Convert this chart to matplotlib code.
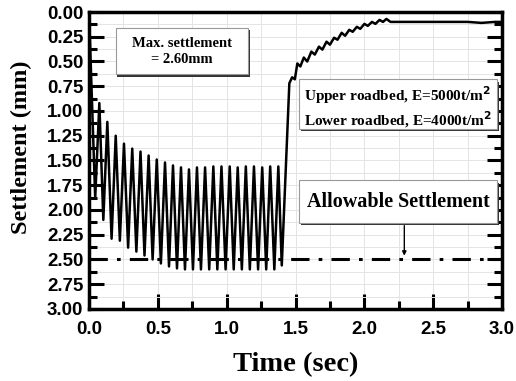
import numpy as np
import matplotlib
matplotlib.use("Agg")
import matplotlib.pyplot as plt
from matplotlib.ticker import MultipleLocator
from matplotlib.patches import Rectangle

# settlement (mm)
start_t = [0.0]
start_s = [0.0]

peak_t = [0.075, 0.133, 0.194, 0.254, 0.314, 0.374, 0.433, 0.492, 0.552, 0.610, 0.668, 0.726,
          0.784, 0.843, 0.903, 0.962, 1.022, 1.080, 1.139, 1.198, 1.258, 1.316, 1.375]
peak_s = [0.92, 1.11, 1.25, 1.33, 1.38, 1.41, 1.45, 1.49, 1.52, 1.55, 1.57, 1.59,
          1.57, 1.57, 1.56, 1.56, 1.56, 1.57, 1.56, 1.56, 1.57, 1.56, 1.56]

trough_t = [0.045, 0.104, 0.164, 0.224, 0.284, 0.344, 0.403, 0.462, 0.522, 0.581, 0.639, 0.697,
            0.755, 0.813, 0.873, 0.932, 0.992, 1.051, 1.110, 1.168, 1.228, 1.287, 1.346, 1.400]
trough_s = [1.88, 2.10, 2.29, 2.31, 2.38, 2.42, 2.46, 2.50, 2.54, 2.57, 2.59, 2.60,
            2.60, 2.60, 2.60, 2.60, 2.60, 2.60, 2.60, 2.60, 2.60, 2.60, 2.60, 2.56]

rec_t = [1.455, 1.475, 1.495, 1.513, 1.535, 1.560, 1.585, 1.615, 1.640, 1.670, 1.695, 1.725,
         1.750, 1.780, 1.805, 1.835, 1.860, 1.890, 1.915, 1.945, 1.970, 2.000, 2.025, 2.055,
         2.080, 2.110, 2.135, 2.160, 2.190, 2.400, 2.600, 2.750, 2.850, 2.950, 3.000]
rec_s = [0.72, 0.66, 0.68, 0.52, 0.55, 0.46, 0.50, 0.40, 0.43, 0.35, 0.38, 0.30,
         0.33, 0.26, 0.28, 0.21, 0.24, 0.18, 0.20, 0.15, 0.17, 0.12, 0.14, 0.10,
         0.12, 0.08, 0.10, 0.07, 0.10, 0.10, 0.10, 0.10, 0.11, 0.10, 0.10]

allowable = 2.5

t = np.concatenate([start_t, peak_t, trough_t, rec_t])
s = np.concatenate([start_s, peak_s, trough_s, rec_s])
order = np.argsort(t)
t, s = t[order], s[order]

serif = "Liberation Serif"
sans = "Liberation Sans"

fig = plt.figure(figsize=(5.16, 3.81), dpi=100)
ax = fig.add_axes([0.1725, 0.189, 0.8005, 0.7795])

ax.axhline(allowable, color="black", lw=2.2, ls=(0, (6, 3, 1.2, 3)), zorder=2)
ax.plot(t, s, color="black", lw=1.8, zorder=3)

ax.set_xlim(0, 3)
ax.set_ylim(3, 0)
ax.xaxis.set_major_locator(MultipleLocator(0.5))
ax.xaxis.set_minor_locator(MultipleLocator(0.25))
ax.yaxis.set_major_locator(MultipleLocator(0.25))
ax.yaxis.set_minor_locator(MultipleLocator(0.125))
ax.xaxis.set_major_formatter(plt.FormatStrFormatter("%.1f"))
ax.yaxis.set_major_formatter(plt.FormatStrFormatter("%.2f"))
ax.grid(True, which="both", color="#e4e4e4", lw=0.7, zorder=0)
ax.set_axisbelow(True)

ax.tick_params(which="major", direction="in", length=11, width=2.2,
               labelsize=13.5, right=True, top=False)
ax.tick_params(axis="x", which="major", pad=9)
ax.tick_params(axis="y", which="major", pad=4)
ax.tick_params(which="minor", direction="in", length=6, width=2.2, right=True, top=False)
for lab in ax.get_xticklabels() + ax.get_yticklabels():
    lab.set_fontfamily(sans)
    lab.set_fontweight("bold")
for sp in ax.spines.values():
    sp.set_linewidth(2.5)

ax.set_xlabel("Time (sec)", fontfamily=serif, fontweight="bold", fontsize=20.5, labelpad=10)
ax.set_ylabel("Settlement (mm)", fontfamily=serif, fontweight="bold", fontsize=17.5)
ax.yaxis.set_label_coords(-0.138, 0.544)


def box(x0, y0, x1, y1):
    ax.add_patch(Rectangle((x0 + 0.012, y0 + 0.025), x1 - x0, y1 - y0, facecolor="#333333",
                           edgecolor="none", zorder=4))
    ax.add_patch(Rectangle((x0, y0), x1 - x0, y1 - y0, facecolor="white",
                           edgecolor="#999999", lw=0.8, zorder=5))


box(0.194, 0.16, 1.155, 0.63)
ax.text(0.675, 0.395, "Max. settlement\n= 2.60mm", ha="center", va="center",
        fontfamily=serif, fontweight="bold", fontsize=10.5, linespacing=1.3, zorder=6)

box(1.525, 0.68, 2.963, 1.18)
ax.text(1.56, 0.96, "Upper roadbed, E=5000t/m$^\\mathbf{2}$\nLower roadbed, E=4000t/m$^\\mathbf{2}$",
        ha="left", va="center", fontfamily=serif, fontweight="bold", fontsize=11,
        linespacing=1.25, zorder=6)

box(1.525, 1.70, 2.963, 2.13)
ax.text(2.244, 1.92, "Allowable Settlement", ha="center", va="center",
        fontfamily=serif, fontweight="bold", fontsize=14.5, zorder=6)
ax.annotate("", xy=(2.29, 2.49), xytext=(2.29, 2.13),
            arrowprops=dict(arrowstyle="-|>", color="black", lw=1.0, mutation_scale=6), zorder=6)

fig.savefig("out.png", dpi=100)
